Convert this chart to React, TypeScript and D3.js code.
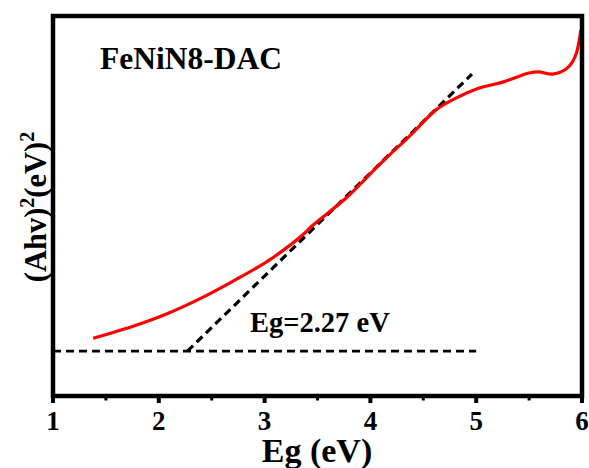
import React from "react";
import * as d3 from "d3";

const curveX = [1.38, 1.77, 2.09, 2.41, 2.72, 3.03, 3.26, 3.38, 3.45, 3.77, 4.09, 4.4, 4.62, 4.81, 5.03, 5.25, 5.5, 5.59, 5.72, 5.85, 5.91, 5.95, 5.99];
const curveY = [15.2, 18.5, 21.8, 25.9, 30.5, 35.5, 40.1, 42.9, 44.8, 52.1, 61.0, 69.2, 75.3, 78.4, 81.05, 82.6, 85.0, 85.3, 84.7, 86.05, 87.9, 90.5, 96.3];
const baselineX = [1.0, 5.0];
const baselineY = [11.8, 11.8];
const tangentX = [2.27, 4.96];
const tangentY = [11.8, 84.7];
const xTicks = [1, 2, 3, 4, 5, 6];
const xMinorTicks = [1.5, 2.5, 3.5, 4.5, 5.5];
const sampleName = "FeNiN8-DAC";
const gapLabel = "Eg=2.27 eV";

const FONT = "'Liberation Serif', 'Times New Roman', Times, serif";

export default function App() {
  const W = 589, H = 468;
  const left = 53, right = 582, top = 16, bottom = 396;
  const x = d3.scaleLinear().domain([1, 6]).range([left, right]);
  const y = d3.scaleLinear().domain([0, 100]).range([bottom, top]);

  const pts: [number, number][] = curveX.map((v, i) => [v, curveY[i]]);
  const line = d3.line<[number, number]>().x(d => x(d[0])).y(d => y(d[1])).curve(d3.curveCatmullRom.alpha(0.5));
  const straight = d3.line<[number, number]>().x(d => x(d[0])).y(d => y(d[1]));

  return (
    <svg width={W} height={H} style={{ position: "absolute", left: 0, top: 0, background: "#fff" }}>
      <rect x={0} y={0} width={W} height={H} fill="#fff" />
      <path d={straight(baselineX.map((v, i) => [v, baselineY[i]]) as [number, number][]) || ""}
        fill="none" stroke="#000" strokeWidth={2.6} strokeDasharray="8,5" />
      <path d={straight(tangentX.map((v, i) => [v, tangentY[i]]) as [number, number][]) || ""}
        fill="none" stroke="#000" strokeWidth={3.2} strokeDasharray="8,5" />
      <path d={line(pts) || ""} fill="none" stroke="#ff0000" strokeWidth={3.2} strokeLinejoin="round" />
      <rect x={left} y={top} width={right - left} height={bottom - top} fill="none" stroke="#000" strokeWidth={4.5} />
      {xTicks.map(t => (
        <line key={"t" + t} x1={x(t)} x2={x(t)} y1={bottom} y2={bottom + 7} stroke="#000" strokeWidth={4} />
      ))}
      {xMinorTicks.map(t => (
        <line key={"m" + t} x1={x(t)} x2={x(t)} y1={bottom} y2={bottom + 4.5} stroke="#000" strokeWidth={3} />
      ))}
      {xTicks.map(t => (
        <text key={"l" + t} x={x(t)} y={430} textAnchor="middle" fontFamily={FONT} fontWeight="bold" fontSize={27} fill="#000">{t}</text>
      ))}
      <text x={317} y={462} textAnchor="middle" fontFamily={FONT} fontWeight="bold" fontSize={34} fill="#000">Eg (eV)</text>
      <text transform="translate(46,207) rotate(-90)" textAnchor="middle" fontFamily={FONT} fontWeight="bold" fontSize={30.5} fill="#000">
        (Ahv)<tspan fontSize={20} dy={-12}>2</tspan><tspan dy={12}>(eV)</tspan><tspan fontSize={20} dy={-12}>2</tspan>
      </text>
      <text x={100} y={69} fontFamily={FONT} fontWeight="bold" fontSize={31.5} fill="#000">{sampleName}</text>
      <text x={250} y={332} fontFamily={FONT} fontWeight="bold" fontSize={28.5} fill="#000">{gapLabel}</text>
    </svg>
  );
}
